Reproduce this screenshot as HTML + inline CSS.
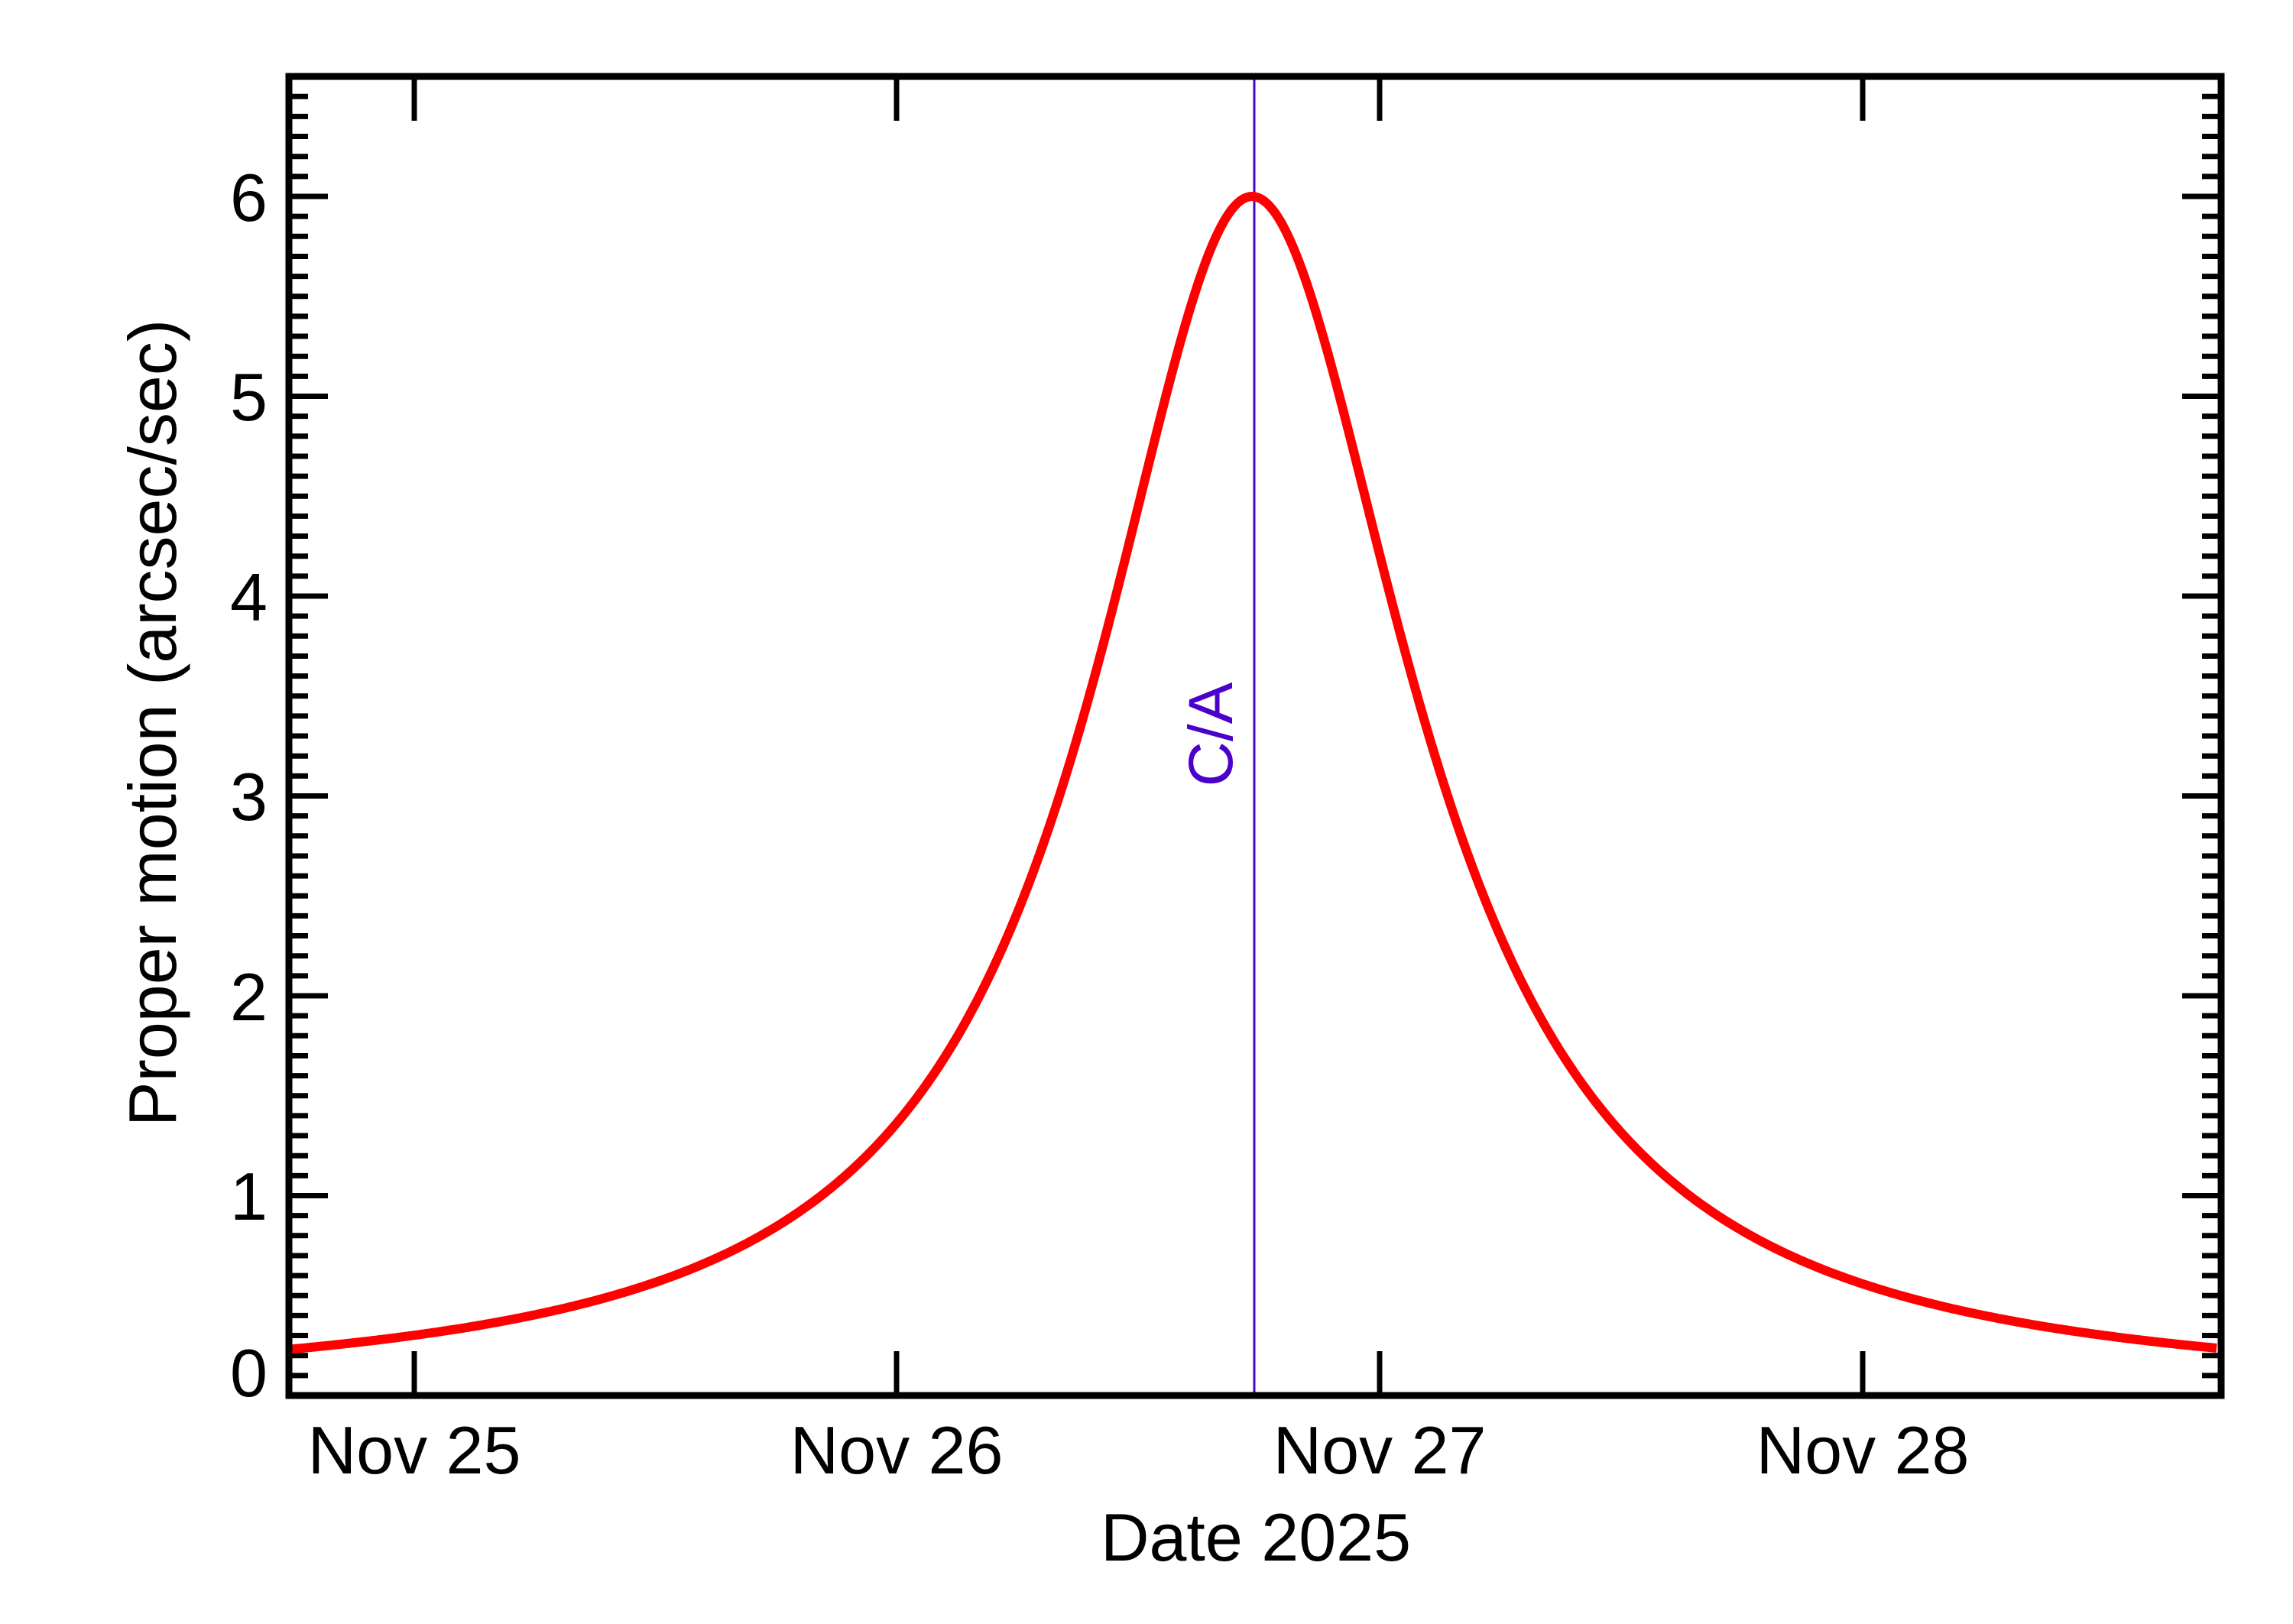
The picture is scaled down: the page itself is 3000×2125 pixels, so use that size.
<!DOCTYPE html>
<html><head><meta charset="utf-8"><style>
html,body{margin:0;padding:0;background:#fff}
svg{display:block}
text{font-family:"Liberation Sans",Arial,sans-serif}
</style></head><body>
<svg id="s" width="3000" height="2125" viewBox="0 0 3000 2125" xmlns="http://www.w3.org/2000/svg">
<rect width="3000" height="2125" fill="#fff"/>
<g id="ticks" stroke="#000"></g>
<line x1="1641" y1="100" x2="1641" y2="1826" stroke="#4b00cc" stroke-width="3"/>
<text x="1612" y="961" font-size="82" fill="#4b00cc" text-anchor="middle" transform="rotate(-90 1612 961)">C/A</text>
<path id="curve" fill="none" stroke="#ff0000" stroke-width="12" stroke-linejoin="round" d=""/>
<rect x="378" y="100" width="2528" height="1726" fill="none" stroke="#000" stroke-width="9"/>
<g font-size="88" fill="#000" text-anchor="end">
<text x="350" y="1827">0</text>
<text x="350" y="1596">1</text>
<text x="350" y="1335">2</text>
<text x="350" y="1073">3</text>
<text x="350" y="812">4</text>
<text x="350" y="550">5</text>
<text x="350" y="289">6</text>
</g>
<g font-size="88" fill="#000" text-anchor="middle">
<text x="542" y="1928">Nov 25</text>
<text x="1173" y="1928">Nov 26</text>
<text x="1805" y="1928">Nov 27</text>
<text x="2437" y="1928">Nov 28</text>
<text x="1643" y="2042">Date 2025</text>
<text x="230" y="946" transform="rotate(-90 230 946)">Proper motion (arcsec/sec)</text>
</g>
</svg>
<script>
(function(){
var NS="http://www.w3.org/2000/svg";
var g=document.getElementById("ticks");
function L(x1,y1,x2,y2,w){var l=document.createElementNS(NS,"line");l.setAttribute("x1",x1);l.setAttribute("y1",y1);l.setAttribute("x2",x2);l.setAttribute("y2",y2);l.setAttribute("stroke-width",w);g.appendChild(l);}
for(var i=1;i<=66;i++){
 var y=1826-i*261.5/10;
 var maj=(i%10===0);
 var len=maj?47:21;
 L(378,y,378+len+4,y,7);
 L(2906,y,2906-len-4,y,7);
}
[542,1173,1805,2437].forEach(function(x){L(x,1826,x,1768,7);L(x,100,x,158,7);});
var d="";
for(var x=380;x<=2902;x+=3){
 var t=(x-1638)/(x<1638?252:256);
 var v=6.0/(1+t*t);
 var y=1826-v*261.5;
 d+=(d?" L":"M")+x+","+y.toFixed(1);
}
document.getElementById("curve").setAttribute("d",d);
})();
</script>
</body></html>
